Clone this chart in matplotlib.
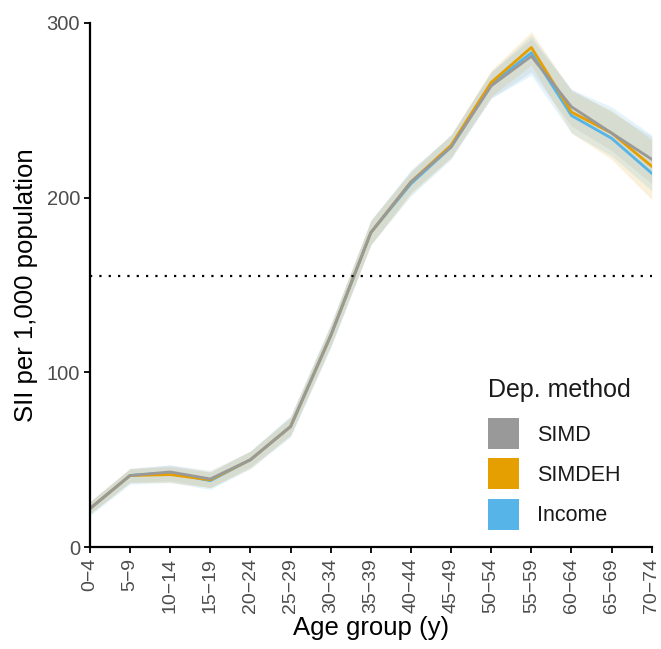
## SII by age group, three deprivation methods

import matplotlib
matplotlib.use('Agg')
import matplotlib.pyplot as plt
from matplotlib.patches import Patch
import numpy as np

plt.rcParams['font.family'] = ['Liberation Sans', 'DejaVu Sans']

age_groups = ['0\u22124', '5\u22129', '10\u221214', '15\u221219', '20\u221224', '25\u221229',
              '30\u221234', '35\u221239', '40\u221244', '45\u221249', '50\u221254', '55\u221259',
              '60\u221264', '65\u221269', '70\u221274']

methods = ['SIMD', 'SIMDEH', 'Income']
colours = {'SIMD': '#999999', 'SIMDEH': '#E69F00', 'Income': '#56B4E9'}

simd = [22, 41, 43, 39, 50, 69, 121, 180, 209, 229, 264, 281, 252, 237, 222]
simd_lo = [19, 37, 38, 34, 46, 64, 115, 173, 203, 223, 257, 272, 241, 227, 208]
simd_hi = [26, 45, 47, 44, 55, 75, 127, 187, 215, 236, 272, 291, 262, 249, 235]

simdeh = [22, 41, 41.5, 38.5, 50, 69, 121, 180, 209, 230, 266, 286, 249, 237, 218]
simdeh_lo = [19, 37, 37, 34, 45, 64, 115, 173, 202, 223, 258, 276, 237, 222, 199]
simdeh_hi = [26, 45, 46, 43, 55, 74, 127, 187, 215, 236, 273, 295, 261, 250, 233]

income = [22, 41, 42.5, 38, 50, 69, 121, 180, 208, 229, 265, 283, 247, 234, 214]
income_lo = [18, 36, 37, 33, 45, 63, 114, 173, 201, 222, 257, 270, 237, 224, 204]
income_hi = [26, 45, 47, 43, 55, 75, 128, 187, 216, 236, 272, 293, 262, 252, 236]

ref_line = 155

data = {
    'SIMD': (simd, simd_lo, simd_hi),
    'SIMDEH': (simdeh, simdeh_lo, simdeh_hi),
    'Income': (income, income_lo, income_hi),
}

figure = plt.figure(figsize=(6.61, 6.49), dpi=100)
axes = figure.add_axes([0.136, 0.157, 0.850, 0.8076])
x = np.arange(len(age_groups))

for m in methods:
    est, lo, hi = data[m]
    axes.fill_between(x, lo, hi, color=colours[m], alpha=0.15, linewidth=0)

for m in ['Income', 'SIMDEH', 'SIMD']:
    est, lo, hi = data[m]
    axes.plot(x, est, color=colours[m], linewidth=2)

axes.axhline(ref_line, color='black', linestyle=(0, (1, 3.2)), linewidth=1.6)

axes.set_xlim(0, len(age_groups) - 1)
axes.set_ylim(0, 300)
axes.set_xticks(x)
axes.set_xticklabels(age_groups, rotation=90)
axes.set_yticks([0, 100, 200, 300])

for s in ['top', 'right']:
    axes.spines[s].set_visible(False)
for s in ['left', 'bottom']:
    axes.spines[s].set_linewidth(1.6)
    axes.spines[s].set_color('black')
axes.tick_params(axis='both', which='major', labelsize=14.5, labelcolor='#4D4D4D',
                 length=4, width=1.3, color='black', pad=3)
axes.tick_params(axis='x', pad=4, labelsize=14)

axes.set_xlabel('Age group (y)', fontsize=18.5, labelpad=2)
axes.set_ylabel('SII per 1,000 population', fontsize=18.5, labelpad=6)

handles = [Patch(facecolor=colours[m], edgecolor='none', label=m) for m in methods]
leg = axes.legend(handles=handles, title='Dep. method', loc='upper left',
                  bbox_to_anchor=(0.739, 0.418), bbox_transform=figure.transFigure,
                  frameon=False, fontsize=15.5, title_fontsize=18,
                  handlelength=1.44, handleheight=1.84, labelspacing=0.42,
                  handletextpad=0.8, borderaxespad=0, borderpad=0)
leg._legend_box.align = 'left'
leg._legend_box.sep = 12
leg.get_title().set_color('#1A1A1A')
for t in leg.get_texts():
    t.set_color('#1A1A1A')

plt.savefig('out.png', dpi=100)
